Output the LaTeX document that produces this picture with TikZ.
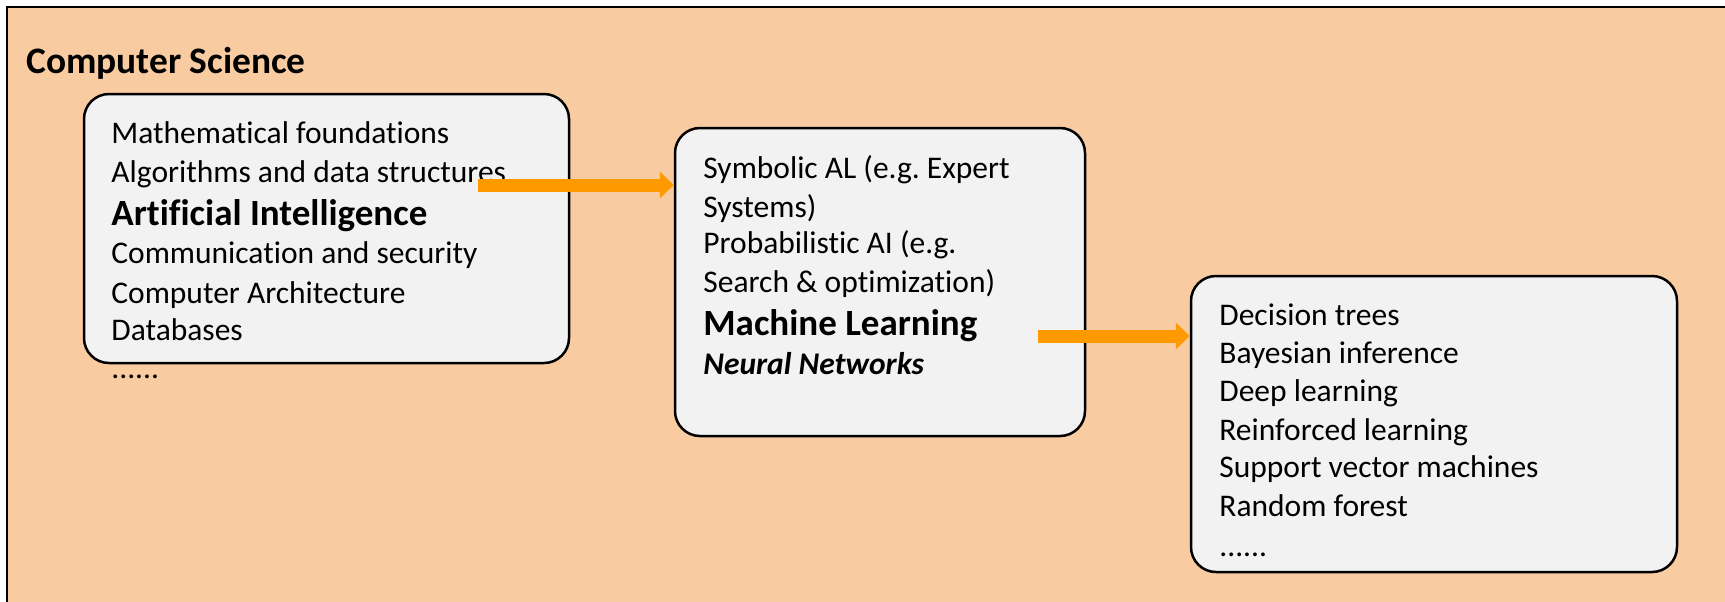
\documentclass[tikz,border=0pt]{standalone}
\usepackage{fontspec}
\setmainfont[Ligatures=NoCommon]{Carlito}
\usetikzlibrary{arrows.meta}

\definecolor{peach}{RGB}{248,203,161}
\definecolor{boxgray}{RGB}{242,242,242}
\definecolor{floworange}{RGB}{255,153,0}

\tikzset{
  topic/.style={draw=black, line width=1.25pt, fill=boxgray, rounded corners=12.5pt, inner sep=0pt},
  item/.style={anchor=base west, inner sep=0pt, font=\fontsize{15.75pt}{18pt}\selectfont},
  key/.style={anchor=base west, inner sep=0pt, font=\fontsize{18.5pt}{22pt}\selectfont\bfseries},
  flow/.style={draw=floworange, line width=6.5pt, -{Triangle[width=13pt,length=7pt]}},
}

\begin{document}
\begin{tikzpicture}[x=0.5pt, y=-0.5pt]
\useasboundingbox (0,0) rectangle (1725,601);
\begin{scope}
\clip (0,0) rectangle (1725,601);
\draw[line width=1pt, fill=peach] (7,7) rectangle (1760,640);
\end{scope}

\node[key, font=\fontsize{18.7pt}{22pt}\selectfont\bfseries] (cs) at (26,73) {Computer Science};

% first box
\node[topic, minimum width=242.5pt, minimum height=134.5pt] (box1) at (326.5,228.5) {};
\node[item] (11) at (111,143) {Mathematical foundations};
\node[item] (12) at (111,182) {Algorithms and data structures};
\node[key] (13) at (111,225) {Artificial Intelligence};
\node[item] (14) at (111,263) {Communication and security};
\node[item] (15) at (111,303) {Computer Architecture};
\node[item] (16) at (111,340) {Databases};
\node[item] (17) at (111,378) {......};

% second box
\node[topic, minimum width=205pt, minimum height=154pt] (box2) at (880,282) {};
\node[item] (21) at (703,178) {Symbolic AL (e.g.\ Expert};
\node[item] (22) at (703,217) {Systems)};
\node[item] (23) at (703,253) {Probabilistic AI (e.g.};
\node[item] (24) at (703,292) {Search \& optimization)};
\node[key] (25) at (703,335) {Machine Learning};
\node[item, font=\fontsize{15.75pt}{18pt}\selectfont\bfseries\itshape] (26) at (703,374) {Neural Networks};

% third box
\node[topic, minimum width=243pt, minimum height=148pt] (box3) at (1434,424) {};
\node[item] (31) at (1219,325) {Decision trees};
\node[item] (32) at (1219,363) {Bayesian inference};
\node[item] (33) at (1219,401) {Deep learning};
\node[item] (34) at (1219,440) {Reinforced learning};
\node[item] (35) at (1219,477) {Support vector machines};
\node[item] (36) at (1219,516) {Random forest};
\node[item] (37) at (1219,556) {......};

% arrows
\coordinate (a1) at (478,185);
\coordinate (a2) at (1038,336);
\draw[flow] (a1) -- (a1 -| box2.west);
\draw[flow] (a2) -- (a2 -| box3.west);
\end{tikzpicture}
\end{document}
